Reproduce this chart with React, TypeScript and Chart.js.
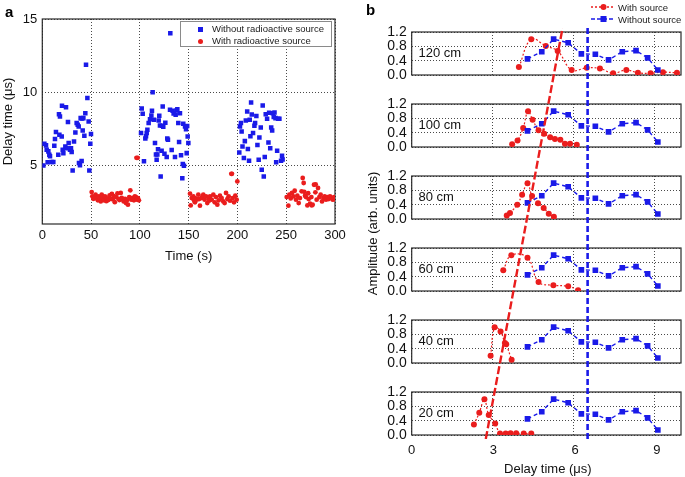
import React, { useEffect, useRef } from "react";
import { Chart, registerables } from "chart.js";

Chart.register(...registerables);

const FONT = "'Liberation Sans', Arial, Helvetica, sans-serif";
const BLUE = "#1a1ae8";
const RED = "#ea1d1d";
const INK = "#111111";
const GRID = "#4a4a4a";

// ---------------- Panel a data ----------------
const timeTicks = [0, 50, 100, 150, 200, 250, 300];
const delayTicks = [5, 10, 15];

const blueTime = [
  1.1, 2.1, 3.8, 4.5, 5.5, 6.2, 7.2, 7.9, 9.6, 11.3, 12.3, 13.0, 14.0, 16.4, 17.1, 17.5, 18.1, 19.9, 20.2, 20.9,
  21.6, 23.6, 24.3, 25.0, 26.3, 27.0, 28.4, 29.4, 30.1, 31.1, 32.5, 33.9, 35.2, 36.3, 37.3, 37.6, 38.6, 39.3, 40.3, 40.6,
  41.4, 42.1, 43.1, 44.1, 44.8, 46.2, 47.5, 48.2, 49.2, 49.9,
  101.2, 101.9, 102.9, 104.2, 105.6, 106.3, 107.0, 107.7, 109.0, 110.4, 111.8, 112.4, 113.1, 114.5, 115.5, 116.5,
  117.2, 117.9, 118.6, 119.3, 119.9, 120.6, 121.3, 122.3, 122.7, 123.4, 124.0, 125.2, 126.1, 127.5, 128.1, 128.8,
  130.9, 131.2, 132.6, 133.6, 134.6, 136.0, 136.7, 137.7, 138.4, 139.4, 140.2, 141.1, 142.2, 143.5, 144.0, 144.5,
  145.2, 146.3, 147.3, 148.0, 148.5, 149.0, 149.7,
  201.9, 202.6, 203.6, 204.3, 205.2, 206.6, 207.6, 208.6, 210.0, 210.7, 211.9, 212.6, 213.3, 214.0, 214.7, 216.0,
  217.4, 218.1, 219.4, 220.5, 221.8, 222.5, 223.9, 224.9, 225.9, 227.0, 228.0, 229.0, 230.4, 231.8, 232.5, 233.6,
  234.6, 235.6, 236.3, 237.2, 238.0, 239.0, 239.7, 240.7, 241.7, 243.0, 244.7, 245.7, 246.3,
];
const blueDelay = [
  5.0, 6.48, 6.37, 6.07, 5.21, 5.96, 5.73, 5.62, 5.23, 5.23, 6.34, 6.8, 7.28, 5.73, 8.5, 7.09, 8.34, 6.98, 9.07, 6.07,
  5.84, 6.3, 8.98, 6.18, 7.96, 6.53, 6.07, 6.18, 5.91, 4.66, 6.64, 7.25, 7.89, 7.78, 7.66, 5.16, 5.02, 8.23, 5.3, 8.21,
  7.39, 8.23, 7.03, 8.57, 11.87, 9.6, 8.0, 4.66, 6.48, 7.14,
  7.21, 8.89, 8.53, 5.28, 6.84, 7.0, 7.21, 7.44, 7.89, 8.16, 8.41, 8.73, 10.0, 8.12, 6.53, 5.75,
  5.39, 5.75, 6.1, 8.07, 8.39, 7.73, 4.25, 6.0, 7.71, 9.03, 7.64, 5.8, 7.91, 5.57, 6.84, 6.75,
  8.8, 14.03, 6.05, 8.73, 8.55, 5.57, 8.46, 8.75, 8.84, 7.89, 6.6, 8.57, 5.7, 4.12, 5.1, 7.84,
  4.98, 7.66, 7.48, 5.84, 7.7, 6.98, 6.53,
  5.89, 7.66, 7.89, 7.32, 6.3, 5.5, 6.66, 8.07, 8.69, 6.12, 5.32, 8.12, 7.0, 9.3, 8.48, 7.21,
  7.71, 7.89, 8.37, 6.39, 5.39, 6.9, 7.59, 4.71, 9.09, 4.25, 5.57, 8.5, 8.19, 6.57, 8.6, 6.18,
  7.59, 7.39, 8.57, 8.3, 8.62, 8.23, 5.21, 6.0, 8.19, 8.19, 5.32, 5.66, 5.4,
];

const redTime = [
  50.6, 51.3, 52.3, 53.2, 54.6, 55.6, 56.9, 57.9, 58.9, 59.9, 60.9, 62.2, 63.2, 64.2, 65.6, 66.6, 67.6, 69.0, 70.0,
  71.3, 72.3, 73.3, 74.3, 75.7, 77.0, 78.0, 79.0, 80.4, 81.4, 82.4, 83.4, 84.8, 85.8, 86.8, 87.8, 89.1, 90.2, 91.2,
  92.5, 93.9, 94.9, 96.0, 96.5, 97.0, 97.8, 98.0, 99.0,
  151.4, 152.1, 153.1, 154.8, 155.6, 156.5, 157.3, 158.2, 159.9, 160.7, 161.6, 163.3, 164.1, 165.0, 166.4, 167.8,
  169.1, 170.5, 171.2, 171.9, 173.6, 175.3, 176.7, 178.0, 179.4, 180.8, 182.1, 183.8, 185.5, 186.9, 188.3, 189.6,
  191.0, 192.4, 193.7, 194.4, 195.1, 196.5, 197.8, 199.2, 199.9,
  250.5, 252.2, 253.2, 254.6, 255.9, 257.3, 258.7, 260.0, 261.4, 262.8, 264.1, 265.8, 266.9, 267.9, 268.5, 269.3,
  270.3, 271.7, 272.5, 273.0, 274.4, 275.8, 276.2, 277.1, 278.5, 279.9, 280.2, 281.2, 282.6, 284.0, 285.3, 286.7,
  288.1, 289.4, 290.8, 292.2, 293.5, 294.9, 296.3, 297.7, 299.0, 299.7,
];
const redDelay = [
  3.18, 2.89, 2.72, 2.77, 3.0, 2.77, 2.62, 2.89, 2.7, 2.54, 3.0, 2.77, 2.62, 2.89, 2.56, 2.74, 2.64, 2.96, 2.72,
  3.06, 2.68, 2.91, 2.49, 2.84, 3.09, 2.72, 2.64, 3.12, 2.79, 2.68, 2.54, 2.72, 2.43, 2.62, 2.32, 2.84, 3.3, 2.66,
  2.79, 2.62, 2.89, 2.84, 5.52, 2.66, 5.52, 2.77, 2.62,
  3.07, 2.27, 2.77, 2.89, 2.6, 2.48, 2.75, 2.66, 3.0, 2.7, 2.25, 2.77, 2.9, 3.0, 2.66, 2.89,
  2.43, 2.77, 2.6, 2.89, 2.66, 3.0, 2.48, 2.84, 2.32, 2.62, 2.93, 2.77, 2.54, 2.43, 3.12, 2.7,
  2.89, 2.59, 4.43, 4.43, 2.77, 2.48, 2.93, 2.66, 3.91,
  2.84, 2.25, 3.0, 2.75, 3.12, 2.89, 3.27, 2.66, 2.93, 2.43, 2.77, 3.23, 4.14, 3.8, 3.2, 2.93,
  2.84, 2.27, 3.1, 2.7, 2.39, 2.84, 2.27, 2.32, 3.68, 3.16, 3.7, 2.66, 3.46, 2.84, 3.0, 2.54,
  2.77, 2.89, 2.66, 2.84, 2.7, 2.89, 2.77, 2.66, 2.84, 2.7,
];

// ---------------- Panel b data ----------------
const delayUsTicks = [0, 3, 6, 9];
const amplitudeTicks = [0, 0.4, 0.8, 1.2];
const distances = ["120 cm", "100 cm", "80 cm", "60 cm", "40 cm", "20 cm"];

const withoutSourceX = [4.3, 4.83, 5.27, 5.81, 6.3, 6.82, 7.31, 7.82, 8.33, 8.76, 9.14];
const withoutSourceY = [0.45, 0.65, 1.0, 0.9, 0.59, 0.58, 0.42, 0.65, 0.68, 0.48, 0.14];

const with120X = [3.98, 4.44, 4.98, 5.42, 5.94, 6.5, 6.99, 7.48, 7.97, 8.4, 8.87, 9.33, 9.85];
const with120Y = [0.22, 1.0, 0.81, 0.67, 0.14, 0.2, 0.18, 0.05, 0.14, 0.06, 0.05, 0.08, 0.06];
const with100X = [3.73, 3.93, 4.14, 4.32, 4.49, 4.71, 4.92, 5.14, 5.32, 5.52, 5.69, 5.88, 6.13];
const with100Y = [0.08, 0.18, 0.53, 1.0, 0.76, 0.47, 0.37, 0.27, 0.22, 0.2, 0.09, 0.09, 0.06];
const with80X = [3.53, 3.65, 3.92, 4.1, 4.3, 4.47, 4.69, 4.9, 5.09, 5.28];
const with80Y = [0.1, 0.17, 0.4, 0.68, 1.0, 0.64, 0.44, 0.31, 0.15, 0.06];
const with60X = [3.4, 3.7, 4.3, 4.71, 5.26, 5.81, 6.18];
const with60Y = [0.58, 1.0, 0.93, 0.25, 0.16, 0.13, 0.02];
const with40X = [2.93, 3.08, 3.3, 3.46, 3.51, 3.71];
const with40Y = [0.2, 1.0, 0.88, 0.56, 0.52, 0.09];
const with20X = [2.31, 2.51, 2.7, 2.86, 3.1, 3.28, 3.49, 3.67, 3.88, 4.16, 4.44];
const with20Y = [0.29, 0.62, 1.0, 0.56, 0.32, 0.04, 0.04, 0.05, 0.05, 0.04, 0.04];

const withSourceXs = [with120X, with100X, with80X, with60X, with40X, with20X];
const withSourceYs = [with120Y, with100Y, with80Y, with60Y, with40Y, with20Y];

const onsetLineX = [2.72, 5.54];
const onsetLineY = [0, 1];
const referenceLineX = [6.46, 6.46];
const referenceLineY = [0, 1];

// ---------------- helpers ----------------
const pts = (xs: number[], ys: number[]) => xs.map((x, i) => ({ x, y: ys[i] }));
const fixedTicks = (vals: number[]) => (s: any) => {
  s.ticks = vals.map((v) => ({ value: v }));
};

const framePlugin = {
  id: "frame",
  beforeDatasetsDraw(chart: any) {
    const { ctx, chartArea: a } = chart;
    ctx.save();
    ctx.strokeStyle = "#2a2a2a";
    ctx.lineWidth = 1.2;
    ctx.strokeRect(a.left, a.top, a.right - a.left, a.bottom - a.top);
    ctx.restore();
  },
};

const panelLabelPlugin = {
  id: "panelLabel",
  beforeDatasetsDraw(chart: any, _args: any, opts: any) {
    if (!opts || !opts.text) return;
    const { ctx, scales } = chart;
    ctx.save();
    ctx.font = `13px ${FONT}`;
    ctx.fillStyle = INK;
    ctx.textAlign = "left";
    ctx.textBaseline = "middle";
    ctx.fillText(opts.text, scales.x.getPixelForValue(opts.x), scales.y.getPixelForValue(opts.y));
    ctx.restore();
  },
};

Chart.defaults.font.family = FONT;
Chart.defaults.color = INK;

const baseOptions = {
  animation: false,
  responsive: false,
  maintainAspectRatio: false,
  devicePixelRatio: 1,
  events: [],
};

function panelAConfig(): any {
  return {
    type: "scatter",
    data: {
      datasets: [
        {
          label: "Without radioactive source",
          data: pts(blueTime, blueDelay),
          pointStyle: "rect",
          pointRadius: 3.2,
          pointBorderWidth: 0,
          pointBackgroundColor: BLUE,
          backgroundColor: BLUE,
          borderColor: BLUE,
        },
        {
          label: "With radioactive source",
          data: pts(redTime, redDelay),
          pointStyle: "circle",
          pointRadius: 2.4,
          pointBorderWidth: 0,
          pointBackgroundColor: RED,
          backgroundColor: RED,
          borderColor: RED,
        },
      ],
    },
    options: {
      ...baseOptions,
      layout: { padding: { top: 19, right: 15, bottom: 0, left: 0 } },
      plugins: { legend: { display: false }, tooltip: { enabled: false } },
      scales: {
        x: {
          type: "linear",
          min: 0,
          max: 300,
          afterBuildTicks: fixedTicks(timeTicks),
          afterFit: (s: any) => {
            s.height = 51;
          },
          grid: { color: GRID, lineWidth: 1, drawTicks: false },
          border: { display: false, dash: [1, 2] },
          ticks: { color: INK, font: { size: 13 }, padding: 4, maxRotation: 0, autoSkip: false },
          title: {
            display: true,
            text: "Time (s)",
            color: INK,
            font: { size: 13 },
            padding: { top: 0, bottom: 11 },
          },
        },
        y: {
          type: "linear",
          min: 1,
          max: 15,
          afterBuildTicks: fixedTicks(delayTicks),
          afterFit: (s: any) => {
            s.width = 42.3;
          },
          grid: { color: GRID, lineWidth: 1, drawTicks: false },
          border: { display: false, dash: [1, 2] },
          ticks: { color: INK, font: { size: 13 }, padding: 5, autoSkip: false },
          title: {
            display: true,
            text: "Delay time (\u03bcs)",
            color: INK,
            font: { size: 13 },
            padding: { top: 1, bottom: 0 },
          },
        },
      },
    },
    plugins: [framePlugin],
  };
}

function panelBConfig(i: number): any {
  return {
    type: "scatter",
    data: {
      datasets: [
        {
          label: "Without source",
          data: pts(withoutSourceX, withoutSourceY),
          showLine: true,
          borderColor: BLUE,
          borderWidth: 1.4,
          borderDash: [4, 3],
          pointStyle: "rect",
          pointRadius: 4,
          pointBorderWidth: 0,
          pointBackgroundColor: BLUE,
          backgroundColor: BLUE,
        },
        {
          label: "With source",
          data: pts(withSourceXs[i], withSourceYs[i]),
          showLine: true,
          tension: 0.4,
          borderColor: RED,
          borderWidth: 1.2,
          borderDash: [2, 2],
          pointStyle: "circle",
          pointRadius: 3,
          pointBorderWidth: 0,
          pointBackgroundColor: RED,
          backgroundColor: RED,
        },
      ],
    },
    options: {
      ...baseOptions,
      layout: { padding: { top: 8, right: 1, bottom: 8, left: 0 } },
      plugins: {
        legend: { display: false },
        tooltip: { enabled: false },
        panelLabel: { text: distances[i], x: 0.25, y: 0.6 },
      },
      scales: {
        x: {
          type: "linear",
          min: 0,
          max: 10,
          afterBuildTicks: fixedTicks(delayUsTicks),
          afterFit: (s: any) => {
            s.height = 0;
          },
          grid: { color: GRID, lineWidth: 1, drawTicks: false },
          border: { display: false, dash: [1, 2] },
          ticks: { display: false, autoSkip: false },
        },
        y: {
          type: "linear",
          min: 0,
          max: 1.2,
          afterBuildTicks: fixedTicks(amplitudeTicks),
          afterFit: (s: any) => {
            s.width = 71.7;
          },
          grid: { color: GRID, lineWidth: 1, drawTicks: false },
          border: { display: false, dash: [1, 2] },
          ticks: {
            color: INK,
            font: { size: 14, lineHeight: 1 },
            padding: 5,
            autoSkip: false,
            callback: (v: any) => Number(v).toFixed(1),
          },
        },
      },
    },
    plugins: [framePlugin, panelLabelPlugin],
  };
}

function overlayConfig(): any {
  return {
    type: "scatter",
    data: {
      datasets: [
        {
          data: pts(onsetLineX, onsetLineY),
          showLine: true,
          borderColor: RED,
          borderWidth: 2.4,
          borderDash: [8, 3],
          pointRadius: 0,
        },
        {
          data: pts(referenceLineX, referenceLineY),
          showLine: true,
          borderColor: BLUE,
          borderWidth: 2.6,
          borderDash: [6, 3],
          pointRadius: 0,
        },
      ],
    },
    options: {
      ...baseOptions,
      layout: { padding: { top: 28, right: 1, bottom: 0, left: 0 } },
      plugins: { legend: { display: false }, tooltip: { enabled: false } },
      scales: {
        x: {
          type: "linear",
          min: 0,
          max: 10,
          afterBuildTicks: fixedTicks(delayUsTicks),
          afterFit: (s: any) => {
            s.height = 38;
          },
          grid: { display: false, drawTicks: false },
          border: { display: false },
          ticks: { color: INK, font: { size: 13 }, padding: 4, maxRotation: 0, autoSkip: false },
          title: {
            display: true,
            text: "Delay time (\u03bcs)",
            color: INK,
            font: { size: 13 },
            padding: { top: 0, bottom: 0 },
          },
        },
        y: {
          type: "linear",
          min: 0,
          max: 1,
          afterFit: (s: any) => {
            s.width = 71.7;
          },
          grid: { display: false, drawTicks: false },
          border: { display: false },
          ticks: { display: false },
          title: {
            display: true,
            text: "Amplitude (arb. units)",
            color: INK,
            font: { size: 13 },
            padding: { top: 26, bottom: 0 },
          },
        },
      },
    },
  };
}

function ChartCanvas(props: { left: number; top: number; width: number; height: number; build: () => any }) {
  const ref = useRef<HTMLCanvasElement>(null);
  useEffect(() => {
    if (!ref.current) return;
    const chart = new Chart(ref.current, props.build());
    return () => chart.destroy();
  }, []);
  return (
    <canvas
      ref={ref}
      width={props.width}
      height={props.height}
      style={{ position: "absolute", left: props.left, top: props.top, width: props.width, height: props.height }}
    />
  );
}

const PANEL_TOP0 = 28;
const PANEL_PITCH = 72;
const PANEL_H = 51;

export default function App() {
  return (
    <div
      style={{
        position: "absolute",
        left: 0,
        top: 0,
        width: 685,
        height: 477,
        background: "#fff",
        overflow: "hidden",
        fontFamily: FONT,
      }}
    >
      <ChartCanvas left={0} top={0} width={350} height={275} build={panelAConfig} />
      {distances.map((d, i) => (
        <ChartCanvas
          key={d}
          left={340}
          top={PANEL_TOP0 + i * PANEL_PITCH - 8}
          width={345}
          height={PANEL_H + 16}
          build={() => panelBConfig(i)}
        />
      ))}
      <ChartCanvas left={340} top={0} width={345} height={477} build={overlayConfig} />

      {/* panel letters */}
      <div style={{ position: "absolute", left: 5, top: 4, font: `bold 15px ${FONT}`, lineHeight: "15px", color: "#000" }}>a</div>
      <div style={{ position: "absolute", left: 366, top: 2, font: `bold 15px ${FONT}`, lineHeight: "15px", color: "#000" }}>b</div>

      {/* legend a */}
      <div
        style={{
          position: "absolute",
          left: 180,
          top: 21,
          width: 152,
          height: 26,
          boxSizing: "border-box",
          border: "1px solid #8a8a8a",
          background: "#fff",
          font: `9.5px ${FONT}`,
          color: "#222",
        }}
      >
        <div style={{ position: "absolute", left: 17, top: 5, width: 4.5, height: 4.5, background: BLUE }} />
        <div style={{ position: "absolute", left: 31, top: 1, lineHeight: "12px", whiteSpace: "nowrap" }}>
          Without radioactive source
        </div>
        <div style={{ position: "absolute", left: 17, top: 17, width: 5, height: 5, borderRadius: "50%", background: RED }} />
        <div style={{ position: "absolute", left: 31, top: 13, lineHeight: "12px", whiteSpace: "nowrap" }}>
          With radioactive source
        </div>
      </div>

      {/* legend b */}
      <div style={{ position: "absolute", left: 590, top: 1, font: `9.5px ${FONT}`, color: "#222" }}>
        <div style={{ display: "flex", alignItems: "center", height: 12, whiteSpace: "nowrap" }}>
          <svg width={26} height={10} style={{ display: "block" }}>
            <line x1={1} y1={5} x2={25} y2={5} stroke={RED} strokeWidth={1.3} strokeDasharray="2 2" />
            <circle cx={13.5} cy={5} r={3} fill={RED} />
          </svg>
          <span style={{ marginLeft: 2 }}>With source</span>
        </div>
        <div style={{ display: "flex", alignItems: "center", height: 12, whiteSpace: "nowrap" }}>
          <svg width={26} height={10} style={{ display: "block" }}>
            <line x1={1} y1={5} x2={25} y2={5} stroke={BLUE} strokeWidth={1.3} strokeDasharray="4 2" />
            <rect x={10.5} y={2} width={6} height={6} fill={BLUE} />
          </svg>
          <span style={{ marginLeft: 2 }}>Without source</span>
        </div>
      </div>
    </div>
  );
}
